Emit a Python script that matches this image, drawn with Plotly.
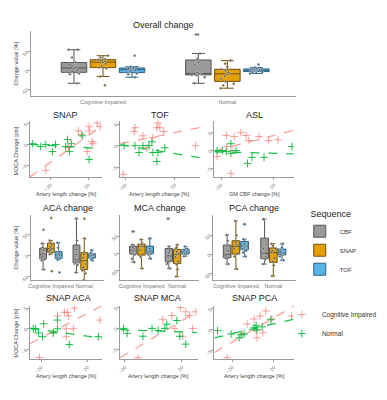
import numpy as np
import plotly.graph_objects as go

W, H = 387, 400
FONT = "Liberation Sans"

# ---------------- data ----------------
groups = ["Cognitive Impaired", "Normal"]
sequences = ["CBF", "SNAP", "TOF"]
seq_fill = {"CBF": "#9a9a9a", "SNAP": "#e69f00", "TOF": "#56b4e9"}
seq_line = {"CBF": "#555555", "SNAP": "#6b5210", "TOF": "#2f5f80"}

# Overall change [%]
ov_ci_cbf = [55, 55, 34, 21, 16, 13, 8, 5, 2, -2, -5, -8, -10, -34]
ov_n_cbf = [95, 95, 45, 30, 21, 15, -9, -5, -8, -10, -11, -12, -13, -18, -34]
ov_ci_snap = [39, 34, 30, 28, 26, 24, 22, 18, 12, 8, 6, -16, -39]
ov_n_snap = [26, 18, 10, 3, 0, -5, -8, -10, -15, -22, -29, -35, -40, -47]
ov_ci_tof = [39, 10, 8, 6, 5, 4, 2, 0, -3, -5, -8, -10, -18]
ov_n_tof = [16, 8, 5, 4, 3, 2, 1, 0, -1, -2, -3, -4, -5, -8]

# ACA change [%]
aca_ci_cbf = [60, 28, 19, 12, 5, 2, -2, -5, -9, -12, -33]
aca_n_cbf = [86, 86, 35, 14, 2, -8, -12, -14, -16, -19, -22, -40]
aca_ci_snap = [88, 35, 30, 26, 20, 16, 12, 9, 7, 3, -37]
aca_n_snap = [86, 40, 8, 3, -5, -12, -20, -28, -35, -42, -58]
aca_ci_tof = [30, 18, 9, 5, 2, 0, -4, -7, -10, -40]
aca_n_tof = [12, 6, 4, 1, 0, -2, -5, -9, -12]

# MCA change [%]
mca_ci_cbf = [63, 63, 25, 17, 14, 10, 8, 4, 0, -3, -15, -25]
mca_n_cbf = [100, 100, 20, 9, 2, -6, -9, -12, -20, -27, -30, -43]
mca_ci_snap = [40, 30, 26, 23, 20, 10, -3, -10, -43]
mca_n_snap = [25, 17, 14, 5, 0, -3, -10, -23, -31, -46, -66]
mca_ci_tof = [43, 43, 14, 10, 6, 4, 0, -3, -15]
mca_n_tof = [20, 14, 10, 6, 4, 0, -3, -8]

# PCA change [%]
pca_ci_cbf = [51, 36, 21, 10, 0, -3, -8, -10, -25]
pca_n_cbf = [92, 92, 26, 15, 3, -5, -10, -13, -25]
pca_ci_snap = [87, 50, 31, 25, 21, 15, 3, -5, -38]
pca_n_snap = [28, 23, 15, 10, 5, -10, -18, -28, -56]
pca_ci_tof = [79, 79, 40, 28, 26, 23, 21, 20, 15, 10, 5, -5]
pca_n_tof = [28, 18, 13, 8, 5, 3, 0, -5, -15]

# Scatter: MOCA change [pts] vs change [%]
snap_ci_x = [-25, -1, 9.5, 12.6, 19, 21, 21, 24, 25, 29.5, 32.6]
snap_ci_y = [-6.2, -0.7, 3.3, 2.4, -1.7, 4.3, 3.3, 0.7, 0.2, 5.2, 4.3]
snap_n_x = [-39, -30.5, -25, -18, -14.7, -4, -2, 0, 2, 13.7, 21]
snap_n_y = [0.2, -0.5, 0, -1.7, 0, -0.5, 1.2, -1.7, 0.2, 2.1, -3.6]

tof_ci_x = [-21.6, -12, -12.8, -5.6, -2.4, 2.4, 5.6, 6.4, 8, 11.2, 36.8]
tof_ci_y = [-6.7, 4.2, 3.3, 2.3, -0.5, 1.9, 4.2, 5.3, 4.2, 3.3, 0]
tof_n_x = [-20.8, -12, -8.8, -5.6, -0.8, 1.6, 2.4, 6.4, 5.6, 12]
tof_n_y = [0, 0, -1.6, 0, 0, 0.9, -1.6, -1.6, -3.7, -0.5]

asl_ci_x = [-23, -16, -15.5, -12.5, -11.7, -10, -5, -1, 1, 8.7, 16, 23]
asl_ci_y = [-1.7, 4.2, 1.1, -6.4, 0, 3.9, 5, 4.2, 2.8, 3.9, 2.8, 3]
asl_n_x = [-23, -19, -16, -12.5, -12.5, -8.7, 3.4, 0, 12.5, 33.6]
asl_n_y = [0, 0, -0.3, 1.9, -0.8, 0, -1.9, -3.6, -1.9, 1.1]

sa_ci_x = [-21.7, 0, 2.6, 8.7, 3.5, -6, -9.6, 1.7, 7.8, 1.7, 31]
sa_ci_y = [-6.9, 4, 4, 5, 3.1, 3.1, -1, -1.9, 0, 0, 2.1]
sa_n_x = [-27, -25, -22.6, -18, -19, -6, -6, -9.6, 4.3, 29.6]
sa_n_y = [0, 0, -1, 1.2, -1.9, 2.1, 0, -1, -3.8, -1.9]

sm_ci_x = [-10.8, 6.6, 12.9, 19, 22.7, 25.5, 29.7, 27.6, 20.6, 15]
sm_ci_y = [-7.1, 2.1, 3.1, 5, 4, 3.1, 4, 0, -1.9, 0]
sm_n_x = [-21, -18.5, -7.4, -1, 8, 9.4, 16.4, 18.5, 22.7, 3.3]
sm_n_y = [0, -1.2, -1.9, 0, 0, 1, 1.9, -1.9, -3.8, -0.5]

sp_ci_x = [-24.8, -5.7, 1, 6.7, 12.4, 18, 37, 3.8, 9.5, 2.9, -10.5]
sp_ci_y = [-6.7, 1.4, 2.6, 3.3, 4.5, 2.6, 3.3, -1.9, -0.7, -0.2, -1]
sp_n_x = [-34, -21, -13.3, -11.4, -8.6, 1, 2.9, 3.8, 8.6, 17]
sp_n_y = [-0.2, -1, -1.9, -1.2, -1, 0.5, 1, 0, 0.7, 2.4]

box_ticks = [-50, 0, 50]
box_ticktext = ["-50", "0", "50"]
moca_ticks = [-5, 0, 5]
x_ticks = [-20, 20]

# ---------------- layout helpers ----------------
def xdom(a, b):
    return [a / W, b / W]

def ydom(top, bottom):
    return [1 - bottom / H, 1 - top / H]

AX = dict(showline=True, linecolor="#9a9a9a", linewidth=1, ticks="outside",
          ticklen=2, tickcolor="#9a9a9a", showgrid=False, zeroline=False,
          tickfont=dict(size=5, color="#777", family=FONT))

fig = go.Figure()
layout = {}
annotations = []

def set_axes(n, xd, yd, xkw, ykw):
    xs = "xaxis" if n == 1 else f"xaxis{n}"
    ys = "yaxis" if n == 1 else f"yaxis{n}"
    xa = dict(AX); xa.update(domain=xdom(*xd), anchor="y" if n == 1 else f"y{n}"); xa.update(xkw)
    ya = dict(AX); ya.update(domain=ydom(*yd), anchor="x" if n == 1 else f"x{n}"); ya.update(ykw)
    layout[xs] = xa
    layout[ys] = ya

def text(t, cx, cy, size=9, color="#222", angle=0):
    annotations.append(dict(text=t, x=cx / W, y=1 - cy / H, xref="paper", yref="paper",
                            showarrow=False, textangle=angle,
                            font=dict(size=size, color=color, family=FONT),
                            xanchor="center", yanchor="middle"))

# ---------------- box panels ----------------
box_panels = [
    (1, {"CBF": (ov_ci_cbf, ov_n_cbf), "SNAP": (ov_ci_snap, ov_n_snap), "TOF": (ov_ci_tof, ov_n_tof)}),
    (5, {"CBF": (aca_ci_cbf, aca_n_cbf), "SNAP": (aca_ci_snap, aca_n_snap), "TOF": (aca_ci_tof, aca_n_tof)}),
    (6, {"CBF": (mca_ci_cbf, mca_n_cbf), "SNAP": (mca_ci_snap, mca_n_snap), "TOF": (mca_ci_tof, mca_n_tof)}),
    (7, {"CBF": (pca_ci_cbf, pca_n_cbf), "SNAP": (pca_ci_snap, pca_n_snap), "TOF": (pca_ci_tof, pca_n_tof)}),
]
for n, data in box_panels:
    xa = "x" if n == 1 else f"x{n}"
    ya = "y" if n == 1 else f"y{n}"
    for s in sequences:
        ci, nm = data[s]
        fig.add_trace(go.Box(
            x=[groups[0]] * len(ci) + [groups[1]] * len(nm), y=ci + nm,
            name=s, legend="legend", legendgroup=s, showlegend=(n == 1),
            offsetgroup=s, xaxis=xa, yaxis=ya,
            fillcolor=seq_fill[s], line=dict(color=seq_line[s], width=1),
            boxpoints="all", pointpos=0, jitter=0.6,
            marker=dict(size=2.5, color=seq_line[s], line=dict(width=0.5, color="#ddd"))))

cat_ax = dict(type="category", categoryorder="array", categoryarray=groups, tickangle=0,
              tickfont=dict(size=5.5, color="#777", family=FONT), ticks="")

set_axes(1, (20, 287), (22, 88), dict(cat_ax, range=[-0.58, 1.55]),
         dict(range=[-68, 105], tickvals=box_ticks, ticktext=box_ticktext, tickangle=-45))
set_axes(5, (20, 94), (208, 274), dict(cat_ax, range=[-0.6, 1.6]),
         dict(range=[-58, 95], tickvals=box_ticks, ticktext=box_ticktext, tickangle=-45))
set_axes(6, (110, 189), (208, 274), dict(cat_ax, range=[-0.6, 1.6]),
         dict(range=[-77, 111], tickvals=box_ticks, ticktext=box_ticktext, tickangle=-45))
set_axes(7, (204, 287), (208, 274), dict(cat_ax, range=[-0.6, 1.6]),
         dict(range=[-67, 103], tickvals=box_ticks, ticktext=box_ticktext, tickangle=-45))

# ---------------- scatter panels ----------------
PINK = "rgba(248,118,109,0.7)"
GREEN = "rgba(0,186,56,0.9)"
scatter_panels = [
    (2, (19, 92), (113, 170), [-42, 35], [-7.9, 5.7], snap_ci_x, snap_ci_y, snap_n_x, snap_n_y, "Artery length change [%]"),
    (3, (110, 190), (113, 170), [-24, 40], [-7.4, 5.8], tof_ci_x, tof_ci_y, tof_n_x, tof_n_y, "Artery length change [%]"),
    (4, (205, 285), (113, 170), [-25, 35], [-7.5, 8.3], asl_ci_x, asl_ci_y, asl_n_x, asl_n_y, "GM CBF change [%]"),
    (8, (19, 92), (300, 354), [-30, 33], [-7.4, 5.5], sa_ci_x, sa_ci_y, sa_n_x, sa_n_y, "Artery length change [%]"),
    (9, (110, 188), (300, 354), [-23.4, 31], [-7.5, 5.4], sm_ci_x, sm_ci_y, sm_n_x, sm_n_y, "Artery length change [%]"),
    (10, (205, 285), (300, 354), [-37, 39], [-7.1, 5.7], sp_ci_x, sp_ci_y, sp_n_x, sp_n_y, "Artery length change [%]"),
]
first = True
for n, xd, yd, xr, yr, cx, cy, nx, ny, xt in scatter_panels:
    xa, ya = f"x{n}", f"y{n}"
    for gx, gy, col, name in [(cx, cy, PINK, groups[0]), (nx, ny, GREEN, groups[1])]:
        fig.add_trace(go.Scatter(
            x=gx, y=gy, mode="markers", name=name, legend="legend2", legendgroup=name,
            showlegend=first, xaxis=xa, yaxis=ya,
            marker=dict(symbol="cross-thin", size=5.5, color=col, line=dict(width=1, color=col))))
        k, b = np.polyfit(np.array(gx, float), np.array(gy, float), 1)
        xs = np.array(xr, float)
        fig.add_trace(go.Scatter(
            x=xs, y=k * xs + b, mode="lines", showlegend=False, xaxis=xa, yaxis=ya,
            line=dict(color=col, width=1.3, dash="dash"), hoverinfo="skip"))
    first = False
    set_axes(n, xd, yd,
             dict(range=xr, tickvals=x_ticks, tickangle=-45),
             dict(range=yr, tickvals=moca_ticks, tickangle=-45))
    # x-axis title below tick labels
    text(xt, (xd[0] + xd[1]) / 2, yd[1] + 17, size=5.5, color="#444")

# ---------------- titles ----------------
text("Overall change", 154, 16)
text("SNAP", 55, 107); text("TOF", 150, 107); text("ASL", 245, 107)
text("ACA change", 57, 201); text("MCA change", 150, 201); text("PCA change", 245, 201)
text("SNAP ACA", 58, 292); text("SNAP MCA", 148, 292); text("SNAP PCA", 245, 292)

# y-axis titles
text("Change value [%]", 5, 55, size=5.5, color="#444", angle=-90)
text("Change value [%]", 5, 241, size=5.5, color="#444", angle=-90)
text("MOCA Change [pts]", 5, 143, size=5.5, color="#444", angle=-90)
text("MOCA Change [pts]", 5, 327, size=5.5, color="#444", angle=-90)

layout.update(
    width=W, height=H, margin=dict(l=0, r=0, t=0, b=0),
    paper_bgcolor="white", plot_bgcolor="white",
    font=dict(family=FONT, color="#333"),
    boxmode="group", boxgap=0.3, boxgroupgap=0.12,
    annotations=annotations,
    legend=dict(title=dict(text="Sequence", font=dict(size=9, color="#222"), side="top center"),
                x=291 / W, y=1 - 198 / H, xanchor="left", yanchor="top",
                font=dict(size=6, color="#333"), bgcolor="rgba(0,0,0,0)",
                tracegroupgap=0, itemwidth=30),
    legend2=dict(x=273 / W, y=1 - 294 / H, xanchor="left", yanchor="top",
                 font=dict(size=6.5, color="#333"), bgcolor="rgba(0,0,0,0)",
                 tracegroupgap=0, itemwidth=30),
)
fig.update_layout(**layout)
fig.write_html("out.html")
